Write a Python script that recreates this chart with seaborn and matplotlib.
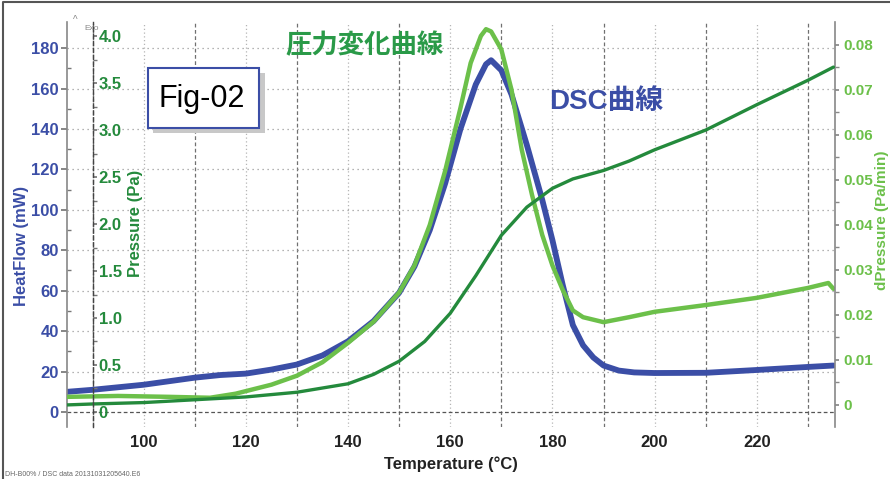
import numpy as np
import pandas as pd
import matplotlib
matplotlib.use("Agg")
import matplotlib.pyplot as plt
import seaborn as sns
from matplotlib.patches import Rectangle
from matplotlib.lines import Line2D

# DSC curve (HeatFlow, mW)
dsc_temp = [85, 90, 100, 110, 115, 120, 125, 130, 135, 140, 145, 150, 153, 156, 159,
            162, 165, 167, 168, 170, 172, 175, 178, 180, 182, 184, 186, 188, 190, 193,
            196, 200, 210, 220, 230, 235]
dsc_heatflow = [10, 11, 13.5, 17, 18.3, 19, 21, 23.5, 28, 35, 45, 59, 72, 90, 113,
                140, 162, 172, 174, 169, 157, 132, 105, 85, 63, 43, 33, 27, 23, 20.5,
                19.6, 19.3, 19.4, 20.8, 22.3, 23]

# pressure (Pa)
p_temp = [85, 90, 100, 110, 120, 130, 140, 145, 150, 155, 160, 165, 170, 175, 180,
          184, 190, 195, 200, 210, 220, 230, 235]
pressure = [0.075, 0.085, 0.10, 0.13, 0.16, 0.21, 0.30, 0.40, 0.54, 0.75, 1.05, 1.45,
            1.88, 2.18, 2.38, 2.48, 2.57, 2.67, 2.79, 3.00, 3.27, 3.53, 3.67]

# pressure rate (Pa/min)
dp_temp = [85, 95, 105, 113, 118, 125, 130, 135, 140, 145, 150, 153, 156, 159, 162,
           164, 166, 167, 168, 170, 172, 174, 176, 178, 180, 182, 184, 186, 190, 195,
           200, 210, 220, 230, 234, 235]
dpressure = [0.0018, 0.0020, 0.0018, 0.0016, 0.0025, 0.0045, 0.0065, 0.0095, 0.0138,
             0.0185, 0.025, 0.031, 0.040, 0.052, 0.066, 0.076, 0.082, 0.0835, 0.083,
             0.079, 0.070, 0.0567, 0.0467, 0.0378, 0.031, 0.0256, 0.021, 0.0195,
             0.0184, 0.0195, 0.0207, 0.0222, 0.0238, 0.026, 0.0271, 0.0258]

hf_ticks = list(range(0, 181, 20))
p_ticks = [0, 0.5, 1.0, 1.5, 2.0, 2.5, 3.0, 3.5, 4.0]
p_labels = ["0", "0.5", "1.0", "1.5", "2.0", "2.5", "3.0", "3.5", "4.0"]
dp_ticks = [0, 0.01, 0.02, 0.03, 0.04, 0.05, 0.06, 0.07, 0.08]
dp_labels = ["0", "0.01", "0.02", "0.03", "0.04", "0.05", "0.06", "0.07", "0.08"]
t_ticks = [100, 120, 140, 160, 180, 200, 220]

BLUE = "#3b4ea6"
DGREEN = "#248a3c"
LGREEN = "#6cc04a"
GRID = "#9a9a9a"

sns.set_theme(style="white")
plt.rcParams["font.family"] = ["Liberation Sans", "Noto Sans CJK JP", "DejaVu Sans"]

W, H = 890, 479
fig = plt.figure(figsize=(8.9, 4.79), dpi=100)


def fx(px):
    return px / W


def fy(py):
    return 1 - py / H


ax = fig.add_axes([fx(67), fy(427), fx(835) - fx(67), fy(22) - fy(427)])
ax_d = ax.twinx()
ax_p = ax.twinx()

# grid
for t in range(90, 235, 10):
    if t % 20 == 0:
        ax.axvline(t, color="#b5b5b5", lw=0.9, ls=(0, (1, 2)), zorder=0)
    else:
        ax.axvline(t, color="#707070", lw=0.9, ls=(0, (3, 2)), zorder=0)
for v in hf_ticks[1:]:
    ax.axhline(v, color=GRID, lw=0.9, ls=(0, (1, 3)), zorder=0)
ax.axhline(0, color="#555555", lw=0.9, ls=(0, (3, 2)), zorder=0)

sns.lineplot(x=dsc_temp, y=dsc_heatflow, ax=ax, color=BLUE, lw=4.2)
sns.lineplot(x=dp_temp, y=dpressure, ax=ax_d, color=LGREEN, lw=3.2)
sns.lineplot(x=p_temp, y=pressure, ax=ax_p, color=DGREEN, lw=2.4)

ax.set_xlim(85, 235.3)
ax.set_ylim(-7.4, 192.9)
ax_p.set_ylim(-0.16, 4.15)
ax_d.set_ylim(-0.0049, 0.0851)

tfont = dict(fontsize=12, fontweight="bold")
rfont = dict(fontsize=11, fontweight="bold")

# HeatFlow axis
ax.set_yticks(hf_ticks)
ax.set_yticklabels([str(v) for v in hf_ticks], color=BLUE, **tfont)
ax.set_yticks(range(10, 190, 20), minor=True)
ax.tick_params(axis="y", which="major", direction="out", length=4, color="#777777", pad=2, left=True)
ax.tick_params(axis="y", which="minor", direction="in", length=3, color="#777777", left=True)
ax.set_xticks(t_ticks)
ax.set_xticklabels([str(v) for v in t_ticks], color="#222222", **tfont)
ax.tick_params(axis="x", length=0, pad=6)
ax.set_xlabel("Temperature (°C)", color="#222222", **tfont)
ax.xaxis.set_label_coords(0.5, -0.072)
ax.set_ylabel("HeatFlow (mW)", color=BLUE, **tfont)
ax.yaxis.set_label_coords(-0.049, 0.447)

for a in (ax, ax_p, ax_d):
    for s in a.spines.values():
        s.set_visible(False)
ax.spines["left"].set_visible(True)
ax.spines["left"].set_color("#888888")
ax.spines["left"].set_linewidth(1.2)

# Pressure axis
ax_p.spines["right"].set_visible(True)
ax_p.spines["right"].set_position(("axes", 0.0339))
ax_p.spines["right"].set_color("#444444")
ax_p.spines["right"].set_linestyle((0, (3, 2)))
ax_p.spines["right"].set_linewidth(1.0)
ax_p.set_yticks(p_ticks)
ax_p.set_yticklabels(p_labels, color=DGREEN, **tfont)
ax_p.set_yticks([0.25, 0.75, 1.25, 1.75, 2.25, 2.75, 3.25, 3.75], minor=True)
ax_p.tick_params(axis="y", which="both", direction="out", length=3, color="#777777", pad=1, right=True)
ax_p.set_ylabel("Pressure (Pa)", color=DGREEN, **tfont)
ax_p.yaxis.set_label_coords(0.0794, 0.504)

# dPressure axis
ax_d.spines["right"].set_visible(True)
ax_d.spines["right"].set_color("#888888")
ax_d.spines["right"].set_linewidth(1.2)
ax_d.set_yticks(dp_ticks)
ax_d.set_yticklabels(dp_labels, color=LGREEN, **rfont)
ax_d.set_yticks([0.005, 0.015, 0.025, 0.035, 0.045, 0.055, 0.065, 0.075], minor=True)
ax_d.tick_params(axis="y", which="both", direction="out", length=3, color="#888888", pad=3, right=True)
ax_d.set_ylabel("dPressure (Pa/min)", color=LGREEN, **rfont)
ax_d.yaxis.set_label_coords(1.052, 0.511)

ax.set_zorder(1)
ax_d.set_zorder(2)
ax_p.set_zorder(3)
ax.patch.set_visible(False)

# annotations
fig.text(fx(75), fy(20), "^", fontsize=7, color="#888888", ha="center", va="center")
fig.text(fx(92), fy(28), "Exo", fontsize=6, color="#888888", ha="center", va="center")

fig.patches.append(Rectangle((fx(153), fy(133)), fx(112), fy(68) - fy(128),
                             transform=fig.transFigure, facecolor="#c8c8c8",
                             edgecolor="none", zorder=10))
fig.patches.append(Rectangle((fx(148), fy(128)), fx(111), fy(68) - fy(128),
                             transform=fig.transFigure, facecolor="white",
                             edgecolor=BLUE, lw=1.5, zorder=11))
fig.text(fx(202), fy(99), "Fig-02", fontsize=22, color="black",
         ha="center", va="center", zorder=12)

fig.text(fx(365), fy(46), "圧力変化曲線", fontsize=19, color="#2a9a48", fontweight="bold",
         family=["Noto Sans CJK JP"], ha="center", va="center", zorder=12)
fig.text(fx(606), fy(102), "DSC曲線", fontsize=20, color=BLUE, fontweight="bold",
         family=["Liberation Sans", "Noto Sans CJK JP"], ha="center", va="center", zorder=12)

fig.text(fx(5), fy(474), "DH-B00% / DSC data 20131031205640.E6", fontsize=5,
         color="#666666", ha="left", va="center")

# outer frame
fig.lines.append(Line2D([0.003, 0.003, 1.0], [0.0, 0.996, 0.996], transform=fig.transFigure,
                        color="#555555", lw=1.5))

fig.savefig("out.png", dpi=100)
